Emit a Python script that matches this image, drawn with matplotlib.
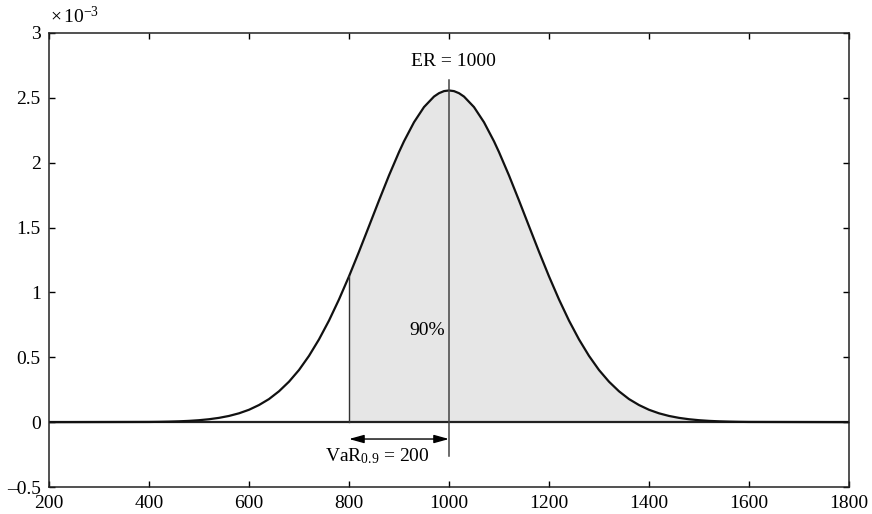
import matplotlib.pyplot as plt
from matplotlib.ticker import FuncFormatter
import numpy as np

plt.rcParams['font.family'] = ['Liberation Serif', 'DejaVu Serif']
plt.rcParams['mathtext.fontset'] = 'custom'
plt.rcParams['mathtext.rm'] = 'Liberation Serif'
plt.rcParams['mathtext.it'] = 'Liberation Serif:italic'

# loss values (x) and density (units of 1e-3)
x_vals = [200, 400, 420, 440, 460, 480, 500, 520, 540, 560, 580, 600, 620, 640,
          660, 680, 700, 720, 740, 760, 780, 800, 820, 840, 860, 880, 900,
          910, 930, 950, 970, 980, 990, 1000, 1010, 1020, 1030, 1050, 1070, 1090,
          1100, 1120, 1140, 1160, 1180, 1200, 1220, 1240, 1260, 1280, 1300,
          1320, 1340, 1360, 1380, 1400, 1420, 1440, 1460, 1480, 1500, 1520,
          1540, 1560, 1580, 1600, 1800]
density_e3 = [0.0, 0.0016, 0.0025, 0.0041, 0.0064, 0.0099, 0.0150, 0.0225, 0.0331,
              0.0479, 0.0682, 0.0955, 0.132, 0.178, 0.238, 0.312, 0.402, 0.511,
              0.638, 0.783, 0.946, 1.124, 1.314, 1.511, 1.709, 1.902, 2.082,
              2.165, 2.312, 2.429, 2.510, 2.536, 2.552, 2.557, 2.552, 2.536, 2.510,
              2.429, 2.312, 2.165, 2.082, 1.902, 1.709, 1.511, 1.314, 1.124,
              0.946, 0.783, 0.638, 0.511, 0.402, 0.312, 0.238, 0.178, 0.132,
              0.0955, 0.0682, 0.0479, 0.0331, 0.0225, 0.0150, 0.0099, 0.0064,
              0.0041, 0.0025, 0.0016, 0.0]

expected_return = 1000
var_level = 800
var_value = 200
shaded_label = '90%'

x = np.array(x_vals, dtype=float)
y = np.array(density_e3) * 1e-3

fig = plt.figure(figsize=(8.72, 5.14), dpi=100)
ax = fig.add_axes([0.0562, 0.0525, 0.9174, 0.8833])

mask = x >= var_level
ax.fill_between(x[mask], 0, y[mask], color='#e6e6e6', linewidth=0)
ax.axhline(0, color='#222222', lw=1.6)
ax.plot(x, y, color='#111111', lw=1.6, solid_joinstyle='round')

y_var = y[x_vals.index(var_level)]
ax.plot([var_level, var_level], [0, y_var], color='#333333', lw=1.0)
ax.plot([expected_return, expected_return], [-0.26e-3, 2.64e-3], color='#444444', lw=1.1)

ax.annotate('', xy=(var_level, -0.13e-3), xytext=(expected_return, -0.13e-3),
            arrowprops=dict(arrowstyle='<|-|>,head_length=0.9,head_width=0.25',
                            color='black', lw=1.0,
                            mutation_scale=10, shrinkA=0, shrinkB=0))
ax.text(856, -0.26e-3, r'$\mathrm{VaR}_{0.9}$ = %d' % var_value,
        ha='center', va='center', fontsize=14)
ax.text(1008, 2.78e-3, 'ER = %d' % expected_return, ha='center', va='center', fontsize=14)
ax.text(957, 0.71e-3, shaded_label, ha='center', va='center', fontsize=14)

ax.set_xlim(200, 1800)
ax.set_ylim(-0.5e-3, 3e-3)
ax.set_xticks(np.arange(200, 1801, 200))
ax.set_yticks(np.arange(-0.5e-3, 3.01e-3, 0.5e-3))
ax.yaxis.set_major_formatter(FuncFormatter(lambda v, p: ('%g' % round(v * 1e3, 2)).replace('-', '\u2013')))
fig.text(50 / 872, 1 - 16 / 514, r'$\times\,10^{-3}$', ha='left', va='center', fontsize=14)
ax.tick_params(direction='in', top=True, right=True, labelsize=14, length=4, width=1, pad=6)
for s in ax.spines.values():
    s.set_linewidth(1.1)
    s.set_color('#222222')

fig.savefig('out.png', dpi=100)
